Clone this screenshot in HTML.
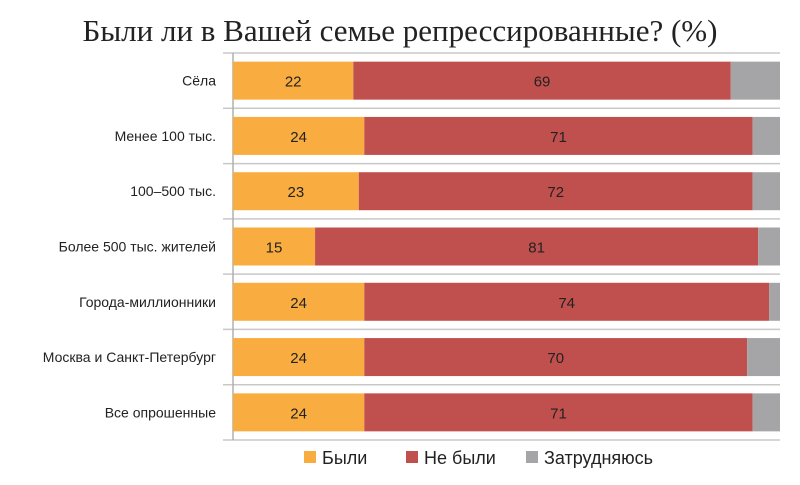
<!DOCTYPE html>
<html><head><meta charset="utf-8"><style>
body{margin:0;background:#fff;}
svg text{font-family:"Liberation Sans","DejaVu Sans",sans-serif;}
</style></head><body>
<svg id="chart" width="800" height="480" xmlns="http://www.w3.org/2000/svg">
<text x="400" y="41" text-anchor="middle" font-size="31" fill="#222" style="font-family:'Liberation Serif','DejaVu Serif',serif">Были ли в Вашей семье репрессированные? (%)</text>
<g id="plot"></g>
<g id="legend"></g>
</svg>
<script>
const categories=["Сёла","Менее 100 тыс.","100–500 тыс.","Более 500 тыс. жителей","Города-миллионники","Москва и Санкт-Петербург","Все опрошенные"];
const were=[22,24,23,15,24,24,24];
const werenot=[69,71,72,81,74,70,71];
const unsure=[9,5,5,4,2,6,5];
const seriesNames=["Были","Не были","Затрудняюсь"];
const colors=["#f9ad40","#c0504d","#a5a5a7"];
const NS="http://www.w3.org/2000/svg";
const x0=233,x1=780,yTop=53,yBot=440;
const pitch=(yBot-yTop)/categories.length;
const xs=v=>x0+(x1-x0)*v/100;
function mk(t,a,p){const e=document.createElementNS(NS,t);for(const k in a)e.setAttribute(k,a[k]);p.appendChild(e);return e;}
const plot=document.getElementById('plot');
for(let i=0;i<=categories.length;i++){
 const y=yTop+i*pitch;
 const l=mk('line',{x1:x0-10,x2:x1,y1:y,y2:y,stroke:'#c8c8c8','stroke-width':1.5},plot);
 
 
}
const ax=mk('line',{x1:x0,x2:x0,y1:yTop,y2:yBot,stroke:'#b0b0b0','stroke-width':1.5},plot);


const series=[were,werenot,unsure];
categories.forEach((c,i)=>{
 const yc=yTop+pitch*(i+0.5);
 const t=mk('text',{x:216,y:yc+5,'text-anchor':'end','font-size':14,fill:'#222'},plot);
 t.textContent=c;
 
 
 let acc=0;
 series.forEach((s,k)=>{
  const v=s[i];
  const r=mk('rect',{x:xs(acc),y:yc-19,width:xs(acc+v)-xs(acc),height:38,fill:colors[k]},plot);
  
  
  if(k<2){
   const lb=mk('text',{x:(xs(acc)+xs(acc+v))/2,y:yc+6,'text-anchor':'middle','font-size':15,fill:'#222'},plot);
   lb.textContent=v;
   
   
  }
  acc+=v;
 });
});
const lg=document.getElementById('legend');
const lx=[304,406,526];
seriesNames.forEach((n,k)=>{
 const g=mk('g',{},lg);
 
 
 mk('rect',{x:lx[k],y:451,width:12,height:12,fill:colors[k]},g);
 const t=mk('text',{x:lx[k]+18,y:464,'font-size':18,fill:'#222'},g);
 t.textContent=n;
});
</script>
</body></html>
